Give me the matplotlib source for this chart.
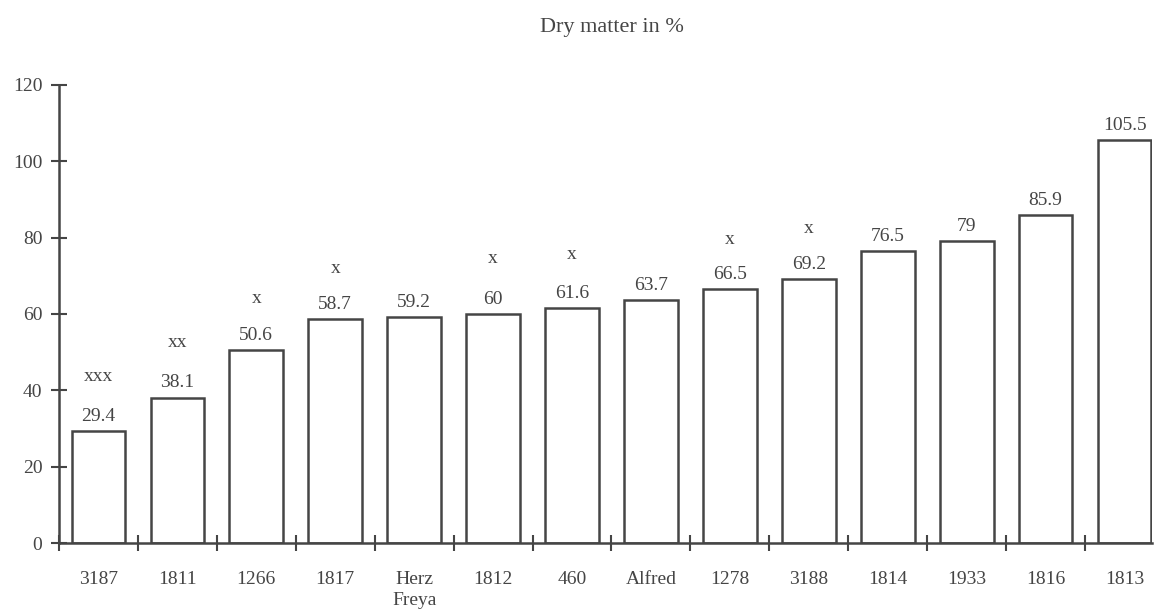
import matplotlib.pyplot as plt
import numpy as np

plt.rcParams['font.family'] = ['Liberation Serif', 'DejaVu Serif']

varieties = ['3187', '1811', '1266', '1817', 'Herz\nFreya', '1812', '460',
             'Alfred', '1278', '3188', '1814', '1933', '1816', '1813']
dry_matter = [29.4, 38.1, 50.6, 58.7, 59.2, 60, 61.6, 63.7, 66.5, 69.2,
              76.5, 79, 85.9, 105.5]
value_labels = ['29.4', '38.1', '50.6', '58.7', '59.2', '60', '61.6', '63.7',
                '66.5', '69.2', '76.5', '79', '85.9', '105.5']
# significance marks and the height at which they sit
sig_marks = ['xxx', 'xx', 'x', 'x', '', 'x', 'x', '', 'x', 'x', '', '', '', '']
sig_heights = [43.5, 52.5, 64, 72, 0, 74.5, 75.5, 0, 79.5, 82.5, 0, 0, 0, 0]

ink = '#454545'

fig = plt.figure(figsize=(11.63, 6.10), dpi=100)
ax = fig.add_axes([0.0507, 0.1098, 0.940, 0.751])

x = np.arange(len(varieties))
ax.bar(x, dry_matter, width=0.68, facecolor='white', edgecolor=ink, linewidth=1.8)

for i, v in enumerate(dry_matter):
    ax.text(x[i], v + 1.6, value_labels[i], ha='center', va='bottom',
            fontsize=14, color=ink)
    if sig_marks[i]:
        ax.text(x[i], sig_heights[i], sig_marks[i], ha='center', va='center',
                fontsize=14, color=ink)

ax.set_xlim(-0.5, 13.35)
ax.set_ylim(0, 120)
ax.set_yticks(np.arange(0, 121, 20))
ax.set_xticks(x)
ax.set_xticklabels(varieties, fontsize=14, color=ink, linespacing=1.3)
ax.set_xticks(np.arange(-0.5, 13, 1), minor=True)
ax.tick_params(axis='x', which='major', length=0, pad=20)
ax.tick_params(axis='x', which='minor', direction='inout', length=12,
               width=1.5, color=ink)
ax.tick_params(axis='y', direction='inout', length=12, width=1.5,
               color=ink, labelcolor=ink, labelsize=14, pad=6)

for side in ['top', 'right']:
    ax.spines[side].set_visible(False)
for side in ['left', 'bottom']:
    ax.spines[side].set_color(ink)
    ax.spines[side].set_linewidth(1.8)

fig.text(0.526, 0.955, 'Dry matter in %', ha='center', va='center',
         fontsize=16, color=ink)

fig.savefig('out.png', dpi=100)
